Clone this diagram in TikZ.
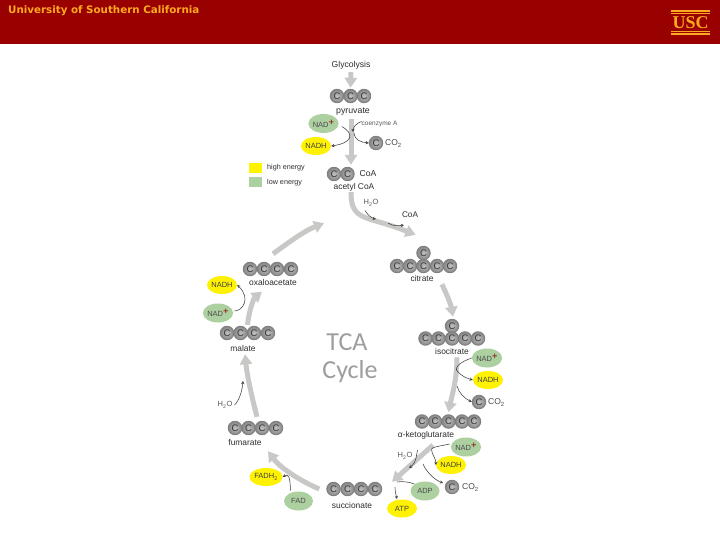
\documentclass[tikz,border=0pt]{standalone}
\usepackage{fontspec}
\setmainfont{Liberation Sans}
\newfontfamily\headfont{DejaVu Sans}
\newfontfamily\tcafont{Carlito}
\newfontfamily\uscfont{Liberation Serif}
\usetikzlibrary{arrows.meta,calc,shapes.geometric}
\definecolor{uscred}{RGB}{153,0,0}
\definecolor{uscgold}{RGB}{255,170,30}
\definecolor{bigarrow}{RGB}{200,200,198}
\definecolor{lowgreen}{RGB}{172,208,160}
\definecolor{highyellow}{RGB}{255,242,0}
\definecolor{txt}{RGB}{45,45,45}
\tikzset{
  x=1pt,y=-1pt,
  ball/.style={circle,minimum size=13.5pt,inner sep=0pt,draw=black!50,line width=0.9pt,inner color=black!25,outer color=black!48,text=black!78,font=\fontsize{9.5}{9.5}\selectfont},
  lbl/.style={inner sep=0pt,text=txt,font=\fontsize{8.4}{9}\selectfont},
  small/.style={inner sep=0pt,text=black!65,font=\fontsize{7.5}{8}\selectfont},
  cyc/.style={draw=bigarrow,line width=5pt,-{Triangle[width=12pt,length=10pt]}},
  thin/.style={draw=black!75,line width=0.55pt,-{Stealth[length=3.2pt,width=3.2pt]}},
  sidelbl/.style={inner sep=0pt,text=black!70,font=\fontsize{8.5}{9}\selectfont},
  nadlow/.style={fill=lowgreen,ellipse,minimum width=29pt,minimum height=19pt,inner sep=0pt,text=black!70,font=\fontsize{7.5}{8}\selectfont},
  nadhigh/.style={fill=highyellow,ellipse,minimum width=30pt,minimum height=18pt,inner sep=0pt,text=black!75,font=\fontsize{7.5}{8}\selectfont},
}
\newcommand{\nadplus}{NAD\raisebox{2pt}{\textcolor{red!55!black}{\fontsize{9.5}{9.5}\selectfont +}}}
\begin{document}
\begin{tikzpicture}
\useasboundingbox (0,0) rectangle (720,540);
\fill[white] (0,0) rectangle (720,540);
\fill[uscred] (0,0) rectangle (720,44.5);
\node[anchor=west,inner sep=0pt,text=uscgold,font=\headfont\bfseries\fontsize{10.3}{11}\selectfont] (uni) at (8,11) {University of Southern California};
\node[inner sep=0pt,text=uscgold,font=\uscfont\bfseries\fontsize{18}{18}\selectfont] (usc) at (690.5,23) {USC};
\fill[uscgold] (671,10.5) rectangle (710,12);
\fill[uscgold] (671,13.5) rectangle (710,14.2);
\fill[uscgold] (671,31.5) rectangle (710,32.2);
\fill[uscgold] (671,33.5) rectangle (710,35);

% TCA label
\node[inner sep=0pt,text=black!38,font=\tcafont\fontsize{26}{26}\selectfont] (tca1) at (347,342) {TCA};
\node[inner sep=0pt,text=black!38,font=\tcafont\fontsize{26}{26}\selectfont] (tca2) at (350,372) {Cycle};

% legend
\fill[highyellow] (249,163) rectangle (262,173);
\fill[lowgreen] (249,177) rectangle (262,187);
\node[lbl,anchor=west,font=\fontsize{7.2}{8}\selectfont] (he) at (267,168) {high energy};
\node[lbl,anchor=west,font=\fontsize{7.2}{8}\selectfont] (le) at (267,182.5) {low energy};

% labels
\node[lbl,font=\fontsize{8.6}{9}\selectfont] (gly) at (351,65) {Glycolysis};
\node[lbl,font=\fontsize{8.8}{9}\selectfont] (pyrl) at (353,112) {pyruvate};
\node[lbl] (acl) at (354,187) {acetyl CoA};
\node[lbl] (citl) at (422,278) {citrate};
\node[lbl] (isol) at (452,351) {isocitrate};
\node[lbl] (akgl) at (426,435) {α-ketoglutarate};
\node[lbl] (sucl) at (352,505.5) {succionate};
\node[lbl] (fuml) at (245,442) {fumarate};
\node[lbl] (mall) at (243,348) {malate};
\node[lbl] (oxal) at (273,282) {oxaloacetate};

% molecules
\foreach \n/\x/\y in {
 p1/337/96,p2/350.5/96,p3/364/96,
 a1/334/174,a2/347.5/174,
 c0/423.5/253,c1/397/266,c2/410/266,c3/423.5/266,c4/437/266,c5/450/266,
 i0/452/326,i1/425.5/338.5,i2/438.5/338.5,i3/452/338.5,i4/465/338.5,i5/478/338.5,
 k1/422/421.5,k2/435/421.5,k3/448.5/421.5,k4/462/421.5,k5/474/421.5,
 s1/333.5/489,s2/347.5/489,s3/361/489,s4/375/489,
 f1/235/428,f2/248.5/428,f3/262/428,f4/276/428,
 m1/227/333,m2/240.5/333,m3/254/333,m4/268/333,
 o1/250/269,o2/264/269,o3/277/269,o4/291/269,
 x1/376/143,x2/479/402,x3/452/487}
  {\node[ball] (\n) at (\x,\y) {C};}

% CO2 and CoA texts
\node[sidelbl,anchor=west] (co2a) at (385,143.5) {CO\textsubscript{2}};
\node[sidelbl,anchor=west] (co2b) at (488,402.5) {CO\textsubscript{2}};
\node[sidelbl,anchor=west] (co2c) at (462,487.5) {CO\textsubscript{2}};
\node[lbl,anchor=west,font=\fontsize{8.6}{9}\selectfont] (coa1) at (359.5,174) {CoA};
\node[lbl,font=\fontsize{8.2}{9}\selectfont] (coa2) at (410,215) {CoA};
\node[small,anchor=west,font=\fontsize{6.5}{8}\selectfont] (coe) at (361.5,123.5) {coenzyme A};
\node[small] (w1) at (371,203) {H\textsubscript{2}O};
\node[small] (w2) at (405,456) {H\textsubscript{2}O};
\node[small] (w3) at (225,405) {H\textsubscript{2}O};

% cofactors
\node[nadlow] (nad1) at (323.5,123.5) {\nadplus};
\node[nadhigh] (nadh1) at (316,146) {NADH};
\node[nadlow] (nad2) at (487,358) {\nadplus};
\node[nadhigh] (nadh2) at (488,380) {NADH};
\node[nadlow] (nad3) at (466,447) {\nadplus};
\node[nadhigh] (nadh3) at (451,465) {NADH};
\node[nadlow] (adp) at (425,491) {ADP};
\node[nadhigh] (atp) at (402,508.5) {ATP};
\node[nadhigh] (fadh) at (266,477) {FADH\textsubscript{2}};
\node[nadlow] (fad) at (298.5,501) {FAD};
\node[nadlow] (nad4) at (218,313) {\nadplus};
\node[nadhigh] (nadh4) at (222,285) {NADH};

% cycle arrows
\draw[cyc] (gly.south) ++(0,3) -- ($(p2.north)+(0,-1)$);
\draw[cyc] (pyrl.south) ++(-2,3) -- ($(a2.north)+(3.5,-2)$);
\draw[cyc] (acl.south) ++(-3,1) .. controls (351,222) and (366,215) .. ($(c3.north)+(-8,-24)$);
\draw[cyc] (citl.south) ++(20,3) .. controls (447,295) and (451,305) .. ($(i0.north)+(1,-2)$);
\draw[cyc] (isol.south) ++(5,3) .. controls (457,380) and (452,395) .. ($(k3.north)+(0,-2)$);
\draw[cyc] (akgl.south) ++(7,6) -- ($(s4.north)+(17,-0)$);
\draw[cyc] (s1.west) ++(-7,0) .. controls (305,483) and (282,470) .. ($(fuml.south)+(23,6)$);
\draw[cyc] (f3.north) ++(-5,-4) .. controls (252,398) and (247,375) .. ($(mall.south)+(2,3)$);
\draw[cyc] (m2.north) ++(7,-1) .. controls (249,310) and (254,298) .. ($(oxal.north)+(-11,13)$);
\draw[cyc] (o2.north) ++(9,-8) .. controls (288,243) and (304,231) .. ($(a1.south)+(-10,42)$);

% thin arrows
\draw[thin] ($(nad1.east)+(3,3)$) .. controls (355,134) and (352,143) .. (nadh1.east);
\draw[thin] ($(coe.west)+(0,-2)$) .. controls (356,123) and (353,128) .. (353,132);
\draw[thin] (354,133) .. controls (355,140) and (360,142) .. (x1.west);
\draw[thin] ($(w1.south)+(-6,4)$) .. controls (367,214) and (371,218) .. (376,219);
\draw[thin] (388,223) .. controls (392,226) and (398,226) .. ($(coa2.south)+(-6,7)$);
\draw[thin] (nad2.west) .. controls (460,362) and (453,368) .. (458,372) .. controls (462,376) and (466,378) .. (nadh2.west);
\draw[thin] (457,386) .. controls (459,393) and (464,398) .. (x2.west);
\draw[thin] ($(nad3.west)+(-1,-3)$) .. controls (436,447) and (429,447) .. (432,452) .. controls (433,456) and (436,459) .. (nadh3.west);
\draw[thin] (423,464) .. controls (427,473) and (435,480) .. (443,483);
\draw[thin] ($(w2.east)+(5,-6)$) .. controls (416,456) and (417,462) .. (409,468);
\draw[thin,-] (adp.north west) .. controls (410,482) and (402,481) .. (397,482);
\draw[thin] (395,487) .. controls (395,491) and (396,495) .. (397,499);
\draw[thin] (fad.north) ++(-8,-1) .. controls (290,478) and (289,473) .. (fadh.east);
\draw[thin] (w3.east) ++(2,0) .. controls (238,402) and (242,393) .. (243,381);
\draw[thin] (nad4.east) ++(1,-2) .. controls (243,311) and (251,298) .. (nadh4.east);
\end{tikzpicture}
\end{document}
